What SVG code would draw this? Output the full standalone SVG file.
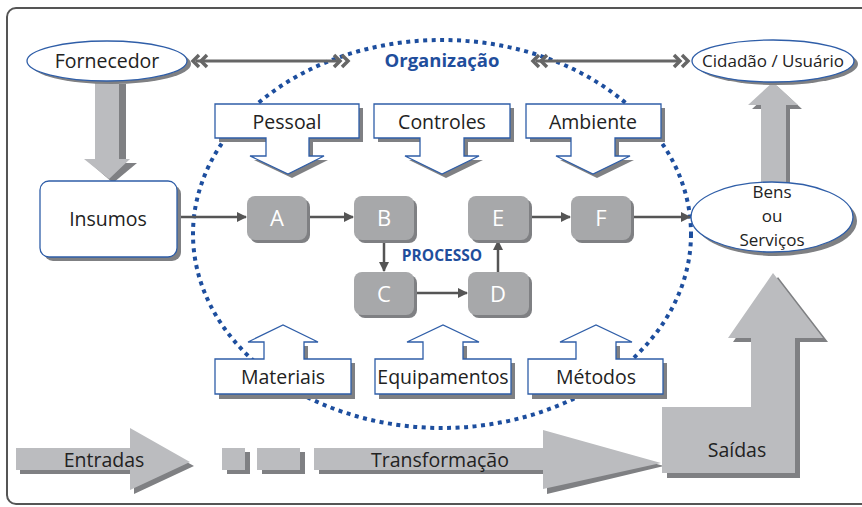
<svg xmlns="http://www.w3.org/2000/svg" width="862" height="507" viewBox="0 0 862 507">
<defs>
<style>
text{font-family:"Open Sans","Noto Sans","Liberation Sans",sans-serif;fill:#222;}
.lbl{font-size:19.5px;text-anchor:middle;}
.sm{font-size:17px;text-anchor:middle;}
.sh{fill:#7f8083;}
.big{fill:#bbbcbf;}
.call{fill:#fff;stroke:#2f5ea8;stroke-width:1.3;}
.node{fill:#a7a8aa;}
.nt{font-size:22px;fill:#fff;text-anchor:middle;}
.conn{stroke:#555;stroke-width:2.5;fill:none;}
.dbl{stroke:#666;stroke-width:3;fill:none;}
.chev{stroke:#666;stroke-width:3.5;fill:none;stroke-linejoin:miter;}
.blue{fill:#1f4e9c;font-weight:bold;}
</style>
<marker id="ah" markerWidth="10" markerHeight="10" refX="9" refY="5" orient="auto" markerUnits="userSpaceOnUse" viewBox="0 0 10 10">
<path d="M0,0 L10,5 L0,10 Z" fill="#555"/>
</marker>
</defs>
<rect width="862" height="507" fill="#fff"/>
<rect x="7" y="8" width="880" height="496" rx="9" fill="none" stroke="#555" stroke-width="2"/>

<!-- bottom flow arrows -->
<g id="entradas">
<path class="sh" d="M20,452 H134 V433 L194,466 L134,494 V474 H20 Z"/>
<path class="big" d="M16,448 H130 V428 L190,462 L130,490 V470 H16 Z"/>
<text class="lbl" x="104" y="467">Entradas</text>
</g>
<g id="blocks">
<rect class="sh" x="227" y="452" width="23" height="22"/>
<rect class="big" x="222" y="448" width="23" height="22"/>
<rect class="sh" x="262" y="452" width="43" height="22"/>
<rect class="big" x="257" y="448" width="43" height="22"/>
</g>
<g id="transformacao">
<path class="sh" d="M319,452 H547 V434 L664,466 L547,494 V474 H319 Z"/>
<path class="big" d="M314,448 H543 V430 L661,463 L543,489 V470 H314 Z"/>
<text class="lbl" x="440" y="467">Transformação</text>
</g>
<g id="saidas">
<path class="sh" d="M667,411 H756 V342 H733 L778,277 L828,342 H800 V478 H667 Z"/>
<path class="big" d="M662,407 H751 V338 H728 L773,273 L823,338 H795 V473 H662 Z"/>
<text class="lbl" x="737" y="457">Saídas</text>
</g>

<!-- vertical big arrows -->
<g id="arrow-fornecedor">
<path class="sh" d="M102,84 H126 V163 H137 L113,183 L90,163 H102 Z"/>
<path class="big" d="M95,80 H119 V159 H130 L109,179 L84,159 H95 Z"/>
</g>
<g id="arrow-cidadao">
<path class="sh" d="M765,186 H790 V109 H802 L777,86 L752,109 H765 Z"/>
<path class="big" d="M761,182 H786 V105 H798 L773,82 L748,105 H761 Z"/>
</g>

<!-- dotted organization boundary -->
<ellipse cx="442" cy="234" rx="249" ry="194" fill="none" stroke="#1d4e9e" stroke-width="4" stroke-dasharray="4 4.5"/>
<text class="blue" x="442" y="67" font-size="18.5" text-anchor="middle">Organização</text>
<text class="blue" x="442" y="261" font-size="15.5" text-anchor="middle">PROCESSO</text>

<!-- connectors -->
<g id="connectors">
<line class="dbl" x1="196" y1="61" x2="340" y2="61"/>
<polyline class="chev" points="199,55 193,61 199,67"/>
<polyline class="chev" points="207,55 201,61 207,67"/>
<polyline class="chev" points="334,55 340,61 334,67"/>
<polyline class="chev" points="342,55 348,61 342,67"/>
<line class="dbl" x1="536" y1="61" x2="680" y2="61"/>
<polyline class="chev" points="539,55 533,61 539,67"/>
<polyline class="chev" points="547,55 541,61 547,67"/>
<polyline class="chev" points="674,55 680,61 674,67"/>
<polyline class="chev" points="682,55 688,61 682,67"/>
<line class="conn" x1="177" y1="217" x2="246" y2="217" marker-end="url(#ah)"/>
<line class="conn" x1="307" y1="217" x2="353" y2="217" marker-end="url(#ah)"/>
<line class="conn" x1="384" y1="240" x2="384" y2="271" marker-end="url(#ah)"/>
<line class="conn" x1="414" y1="293" x2="467" y2="293" marker-end="url(#ah)"/>
<line class="conn" x1="498" y1="272" x2="498" y2="241" marker-end="url(#ah)"/>
<line class="conn" x1="529" y1="217" x2="570" y2="217" marker-end="url(#ah)"/>
<line class="conn" x1="631" y1="217" x2="690" y2="217" marker-end="url(#ah)"/>
</g>

<!-- ellipses -->
<g id="fornecedor">
<ellipse class="sh" cx="111" cy="64" rx="80" ry="20"/>
<ellipse class="call" cx="107" cy="61" rx="80" ry="20"/>
<text class="lbl" x="107" y="68">Fornecedor</text>
</g>
<g id="cidadao">
<ellipse class="sh" cx="777" cy="64" rx="81" ry="21"/>
<ellipse class="call" cx="773" cy="61" rx="81" ry="21"/>
<text class="sm" x="773" y="67">Cidadão / Usuário</text>
</g>
<g id="bens">
<ellipse class="sh" cx="776" cy="221" rx="81" ry="35"/>
<ellipse class="call" cx="772" cy="217" rx="81" ry="35"/>
<text class="sm" x="772" y="198">Bens</text>
<text class="sm" x="772" y="222">ou</text>
<text class="sm" x="772" y="246">Serviços</text>
</g>

<!-- Insumos -->
<g id="insumos">
<rect class="sh" x="44" y="185" width="137" height="76" rx="9"/>
<rect class="call" x="40" y="181" width="137" height="76" rx="9"/>
<text class="lbl" x="108" y="226">Insumos</text>
</g>

<!-- process nodes -->
<g id="A"><rect class="sh" x="250" y="199" width="60" height="44" rx="8"/><rect class="node" x="247" y="196" width="60" height="44" rx="8"/><text class="nt" x="277" y="226">A</text></g>
<g id="B"><rect class="sh" x="357" y="199" width="60" height="44" rx="8"/><rect class="node" x="354" y="196" width="60" height="44" rx="8"/><text class="nt" x="384" y="226">B</text></g>
<g id="C"><rect class="sh" x="357" y="275" width="60" height="43" rx="8"/><rect class="node" x="354" y="272" width="60" height="43" rx="8"/><text class="nt" x="384" y="302">C</text></g>
<g id="D"><rect class="sh" x="471" y="275" width="61" height="43" rx="8"/><rect class="node" x="468" y="272" width="61" height="43" rx="8"/><text class="nt" x="498" y="302">D</text></g>
<g id="E"><rect class="sh" x="471" y="199" width="61" height="44" rx="8"/><rect class="node" x="468" y="196" width="61" height="44" rx="8"/><text class="nt" x="498" y="226">E</text></g>
<g id="F"><rect class="sh" x="574" y="199" width="60" height="44" rx="8"/><rect class="node" x="571" y="196" width="60" height="44" rx="8"/><text class="nt" x="601" y="226">F</text></g>

<!-- top callouts -->
<g id="pessoal">
<path class="sh" d="M219,108 H363 V142 H313 V160 H328 L292,178 L254,160 H270 V142 H219 Z"/>
<path class="call" d="M215,104 H359 V138 H309 V156 H324 L288,174 L250,156 H266 V138 H215 Z"/>
<text class="lbl" x="287" y="129">Pessoal</text>
</g>
<g id="controles">
<path class="sh" d="M378,108 H514 V142 H468 V160 H483 L446,178 L409,160 H424 V142 H378 Z"/>
<path class="call" d="M374,104 H510 V138 H464 V156 H479 L442,174 L405,156 H420 V138 H374 Z"/>
<text class="lbl" x="442" y="129">Controles</text>
</g>
<g id="ambiente">
<path class="sh" d="M530,108 H665 V142 H619 V160 H634 L597,178 L560,160 H575 V142 H530 Z"/>
<path class="call" d="M526,104 H661 V138 H615 V156 H630 L593,174 L556,156 H571 V138 H526 Z"/>
<text class="lbl" x="593" y="129">Ambiente</text>
</g>

<!-- bottom callouts -->
<g id="materiais">
<path class="sh" d="M219,363 H355 V399 H219 Z M268,363 V346 H308 V363 Z"/>
<path class="call" d="M215,359 H264 V342 H248 L283,325 L318,342 H304 V359 H351 V394 H215 Z"/>
<text class="lbl" x="283" y="384">Materiais</text>
</g>
<g id="equipamentos">
<path class="sh" d="M379,363 H515 V399 H379 Z M427,363 V346 H467 V363 Z"/>
<path class="call" d="M375,359 H423 V342 H407 L443,325 L479,342 H463 V359 H511 V394 H375 Z"/>
<text class="lbl" x="443" y="384">Equipamentos</text>
</g>
<g id="metodos">
<path class="sh" d="M532,363 H667 V399 H532 Z M580,363 V346 H620 V363 Z"/>
<path class="call" d="M528,359 H576 V342 H560 L596,325 L632,342 H616 V359 H663 V394 H528 Z"/>
<text class="lbl" x="596" y="384">Métodos</text>
</g>
</svg>
